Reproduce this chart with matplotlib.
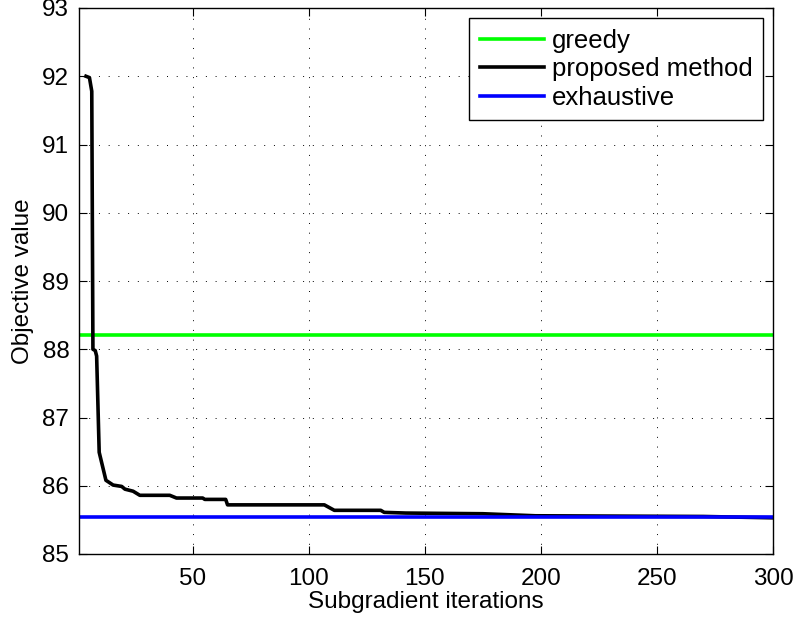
import matplotlib
matplotlib.use("Agg")
import matplotlib.pyplot as plt

plt.rcParams['font.family'] = ['Liberation Sans', 'DejaVu Sans']

# Values
iterations = [4, 5.5, 6.5, 7, 8, 8.6, 9.7, 12.6, 15.7, 19.4, 20.8, 24.3, 27.2, 40.1, 43,
              54.3, 55.2, 64.2, 65, 106.7, 111, 131, 132.5, 141.8, 175, 197.7, 270, 300]
proposed = [92.0, 91.98, 91.78, 88.0, 87.98, 87.9, 86.49, 86.08, 86.01, 85.99, 85.95, 85.92,
            85.86, 85.86, 85.82, 85.82, 85.80, 85.80, 85.72, 85.72, 85.64, 85.64, 85.61,
            85.60, 85.59, 85.56, 85.55, 85.53]
greedy_value = 88.21
exhaustive_value = 85.54

x_ticks = [50, 100, 150, 200, 250, 300]
y_ticks = [85, 86, 87, 88, 89, 90, 91, 92, 93]

fig = plt.figure(figsize=(7.98, 6.25), dpi=100)
ax = fig.add_axes([79 / 798, 1 - 554 / 625, 694 / 798, 546 / 625])

ax.axhline(greedy_value, color='#00ff00', lw=2.6, label='greedy')
ax.plot(iterations, proposed, color='black', lw=2.6, label='proposed method')
ax.axhline(exhaustive_value, color='#0000ff', lw=2.6, label='exhaustive')

ax.set_xlim(1, 300)
ax.set_ylim(85, 93)
ax.set_xticks(x_ticks)
ax.set_yticks(y_ticks)
ax.tick_params(direction='in', top=True, right=True, labelsize=17.5, length=6)
ax.tick_params(axis='x', pad=10)
ax.tick_params(axis='y', pad=7)
ax.grid(True, linestyle=(0, (1, 9)), color='black', lw=0.7)
for s in ax.spines.values():
    s.set_linewidth(1.0)

ax.set_xlabel('Subgradient iterations', fontsize=17.5, labelpad=1)
ax.set_ylabel('Objective value', fontsize=17.5, labelpad=6)

leg = ax.legend(loc='upper right', fontsize=18.5, fancybox=False, framealpha=1,
                edgecolor='black', handlelength=2.5, borderaxespad=0.4,
                labelspacing=0.18, handletextpad=0.3, borderpad=0.4)
leg.get_frame().set_linewidth(1.0)

fig.savefig('out.png', dpi=100)
